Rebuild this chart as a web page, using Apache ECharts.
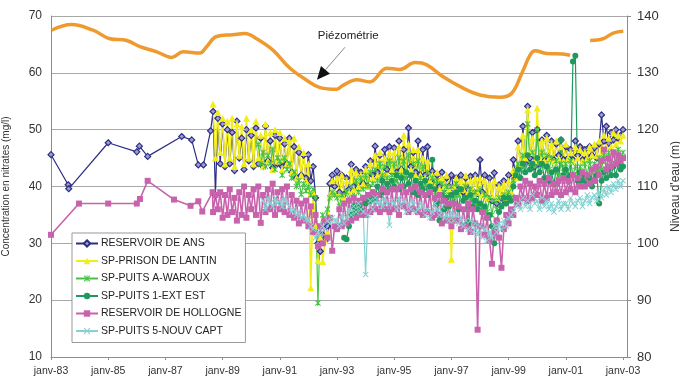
<!DOCTYPE html>
<html><head><meta charset="utf-8">
<script src="https://cdn.jsdelivr.net/npm/echarts@6/dist/echarts.min.js"></script>
<style>html,body{margin:0;padding:0;background:#fff}#c{width:680px;height:383px}</style>
</head><body><div id="c"></div>
<script>
// ---------- DATA ----------
var seriesNames = ['RESERVOIR DE ANS','SP-PRISON DE LANTIN','SP-PUITS A-WAROUX','SP-PUITS 1-EXT EST','RESERVOIR DE HOLLOGNE','SP-PUITS 5-NOUV CAPT'];
var xTickYears = [1983,1985,1987,1989,1991,1993,1995,1997,1999,2001,2003];

// piezometric level (m), right axis: decimal year / value
var piezoX = [1983.02,1983.72,1984.47,1985.06,1985.65,1986.11,1986.70,1987.22,1987.62,1988.21,1988.44,1988.79,1989.36,1989.78,1990.19,1990.76,1991.36,1991.94,1992.41,1992.99,1993.21,1993.69,1994.15,1994.74,1995.20,1995.73,1996.14,1996.71,1997.41,1998.00,1998.70,1999.11,1999.46,1999.75,1999.92,2000.33,2000.90,2001.15,2001.50,2001.85,2002.30,2002.66,2003.01];
var piezoY = [137.5,138.5,137.5,136.0,135.7,134.6,133.7,132.7,133.7,133.5,134.6,136.4,136.7,136.9,136.0,134.0,130.8,128.7,127.4,127.1,127.8,128.8,128.4,130.8,130.6,131.8,131.4,129.3,127.3,126.1,125.7,126.4,129.9,133.1,133.9,133.4,133.3,133.1,null,135.7,136.0,137.0,137.3];

// sparse early samples
var ansEarlyX = [1983.0,1983.6,1983.62,1985.0,1986.0,1986.09,1986.38,1987.57,1987.92,1988.15,1988.33,1988.58];
var ansEarlyY = [45.6,40.3,39.6,47.7,46.1,47.1,45.3,48.8,48.2,43.8,43.8,49.8];
var hollEarlyX = [1983.0,1983.98,1985.0,1986.0,1986.11,1986.38,1987.3,1987.88,1988.15,1988.29,1988.65];
var hollEarlyY = [31.5,37.0,37.0,37.0,37.8,41.0,37.7,36.6,37.4,35.6,39.0];

// monthly samples (start year, start month, values)
var ansStart = [1988, 9];
var ansVals = [53.2,38.5,52.0,44.0,
 51.0,43.5,50.0,44.0,49.5,42.8,51.5,45.0,48.5,43.0,50.0,44.5,
 49.0,43.5,50.3,44.0,48.5,43.5,50.6,44.5,48.0,43.3,49.0,44.0,
 48.5,43.5,47.5,44.0,48.5,42.5,47.0,41.5,46.0,42.0,45.5,41.5,
 45.6,41.0,43.5,38.0,30.0,28.6,31.5,30.4,33.0,40.5,42.0,40.0,
 42.7,39.0,42.0,38.6,41.5,39.5,43.9,40.0,43.0,39.8,42.5,40.5,
 43.5,40.0,44.5,42.0,47.1,42.5,45.5,42.1,46.5,43.0,47.0,42.5,
 46.8,42.5,48.0,43.0,46.5,42.0,50.3,43.5,46.0,42.5,48.0,42.0,
 46.5,42.0,47.0,41.0,42.7,39.8,42.0,40.0,42.5,39.5,41.5,40.0,
 42.0,39.2,41.5,39.5,42.0,39.0,41.5,39.5,41.8,39.2,42.0,38.8,
 44.7,39.0,42.0,38.0,41.5,37.5,42.4,37.0,40.3,38.0,41.0,37.2,
 42.0,38.5,44.7,41.5,48.0,43.5,50.6,44.0,54.1,45.0,49.5,43.5,
 50.0,44.0,48.2,44.5,49.0,45.0,48.0,44.7,47.5,45.5,48.2,44.7,
 47.0,45.0,46.5,44.7,48.0,45.5,47.0,44.7,46.5,45.0,47.0,45.5,
 46.8,45.0,47.5,52.6,48.0,50.6,47.6,49.5,48.2,50.0,48.5,49.0,
 50.0];
var lantinStart = [1988, 9];
var lantinVals = [54.5,45.0,53.0,46.0,
 52.0,44.0,51.5,45.0,52.0,43.5,51.0,45.5,50.5,44.0,52.0,45.0,
 50.0,44.0,51.5,45.0,49.0,43.5,51.0,44.5,49.5,43.0,50.0,44.5,
 49.5,43.0,48.5,44.0,48.0,42.5,48.5,41.5,47.0,42.0,46.0,41.0,
 44.0,22.2,39.0,33.0,27.0,31.0,26.8,30.5,32.0,38.5,41.0,39.0,
 41.5,38.5,42.0,38.0,41.0,39.0,43.0,39.5,42.5,40.0,42.0,40.5,
 43.0,40.0,44.0,41.5,45.5,42.0,46.0,42.5,45.0,42.0,46.0,43.0,
 46.0,42.0,47.0,43.0,49.0,42.5,47.5,43.0,46.5,42.0,46.5,42.0,
 45.0,41.5,44.5,41.0,42.0,40.0,42.5,39.5,41.5,40.0,42.0,39.5,
 27.2,40.0,41.5,39.0,41.0,39.5,42.0,39.0,41.0,39.5,41.5,39.0,
 41.5,38.5,41.0,38.0,40.5,38.5,41.0,38.0,40.0,38.5,40.5,38.0,
 41.0,39.0,43.0,41.5,47.0,44.0,49.0,45.0,53.5,46.0,48.5,44.5,
 53.8,45.0,48.0,44.5,48.5,45.0,47.5,44.5,48.0,45.0,47.0,44.5,
 47.5,45.0,46.0,44.5,47.0,45.0,46.5,44.5,46.0,45.0,47.0,45.5,
 47.5,45.5,48.0,46.0,49.0,47.0,48.5,47.0,49.5,47.5,49.0,48.0,
 49.0];
var warouxStart = [1990, 4];
var warouxVals = [47.4,44.0,46.0,43.5,45.5,44.0,46.5,43.0,45.0,
 44.5,42.0,45.0,43.0,44.0,41.5,42.5,40.0,41.0,38.6,40.5,39.2,
 40.0,38.5,39.5,38.0,19.5,33.0,35.0,34.0,36.0,38.0,39.0,38.5,
 38.0,36.5,38.5,37.0,39.0,37.5,40.0,38.0,41.0,39.0,41.5,39.5,
 42.0,40.0,42.5,40.5,43.0,41.0,44.0,42.0,43.5,41.5,44.5,42.0,
 44.0,41.0,45.0,42.0,44.5,41.5,45.5,42.0,44.0,41.0,44.5,41.5,
 43.5,40.5,42.5,40.0,41.5,39.0,41.0,38.5,40.5,39.0,40.0,38.5,
 40.0,38.0,40.5,38.5,39.5,37.5,40.0,38.0,39.5,37.5,39.0,37.0,
 39.5,36.5,38.5,35.5,38.0,35.0,37.5,36.0,38.0,36.5,38.5,37.0,
 39.0,38.0,41.0,42.5,44.0,43.0,45.5,43.5,51.0,44.0,46.0,43.5,
 50.0,44.0,46.0,43.5,45.5,43.0,45.0,42.5,44.5,42.0,44.0,42.5,
 44.0,42.0,44.5,42.0,43.5,41.5,43.5,41.5,44.0,42.0,44.5,42.5,
 44.0,42.5,45.0,43.0,45.5,43.0,46.0,43.5,46.0,44.0,46.5,44.5,
 46.0];
var extEstStart = [1993, 4];
var extEstVals = [31.0,30.7,33.0,35.0,36.5,35.5,37.0,36.0,38.0,
 37.0,38.5,37.5,39.0,38.0,40.0,38.5,41.0,39.0,40.5,39.5,41.0,
 40.0,42.0,39.5,41.5,40.0,42.5,40.5,42.0,39.0,41.0,38.5,40.5,
 39.5,41.0,38.5,40.0,44.7,39.5,37.0,34.0,38.5,36.0,38.0,36.5,
 38.5,37.0,39.0,36.0,39.5,37.5,38.0,33.5,38.5,36.5,37.5,36.0,
 37.0,35.5,36.5,34.5,35.0,33.0,30.0,34.0,35.5,36.5,38.0,37.0,
 38.0,37.5,40.0,42.0,43.0,41.5,44.0,42.5,45.5,43.0,44.0,42.0,
 45.0,42.5,44.0,41.5,43.5,41.0,42.5,40.5,43.0,41.0,48.2,42.0,
 43.0,41.5,42.0,62.0,63.0,41.0,42.5,41.0,42.0,40.5,41.5,40.0,
 41.0,42.0,37.0,41.0,42.5,41.5,43.0,42.0,43.5,42.0,44.0,43.0,
 43.5];
var hollStart = [1988, 9];
var hollVals = [35.5,38.5,36.0,39.0,
 34.5,38.5,35.0,39.5,35.5,38.0,34.0,39.0,35.0,40.0,34.5,38.5,
 36.0,39.5,35.0,40.0,33.6,38.5,35.5,39.5,36.0,40.5,35.0,39.0,
 36.0,39.5,35.5,40.0,35.0,38.5,34.5,37.5,33.5,37.0,34.0,37.5,
 33.0,36.5,32.0,35.0,29.5,33.0,30.0,34.0,31.0,34.5,28.7,33.0,
 32.5,36.0,33.0,37.0,33.5,37.5,34.0,38.0,34.5,37.5,35.0,38.0,
 35.0,38.5,35.5,39.0,36.0,38.5,35.5,39.5,36.0,39.0,35.5,39.5,
 36.0,39.5,35.0,40.0,36.5,39.0,35.5,39.5,36.0,40.0,35.5,39.0,
 35.0,38.5,35.5,39.0,34.5,38.0,35.0,38.5,33.5,37.5,34.0,37.0,
 33.0,37.0,34.0,36.5,32.5,36.0,33.0,37.0,32.0,36.0,33.5,14.8,
 33.0,35.5,31.5,34.5,30.5,26.4,32.0,34.0,31.0,25.7,32.5,35.0,
 33.5,36.0,35.0,38.0,37.0,40.0,38.0,41.0,37.5,40.5,38.0,40.0,
 38.5,41.0,37.5,40.5,38.0,41.5,38.5,40.5,39.0,41.0,38.5,41.5,
 39.0,41.0,39.5,42.0,39.0,41.5,40.0,42.5,40.0,42.0,40.5,43.0,
 41.0,43.5,42.0,44.5,46.5,43.0,45.0,43.5,46.0,44.0,45.5,44.5,
 45.0];
var nouvStart = [1990, 6];
var nouvVals = [37.5,36.0,38.0,37.1,36.5,38.0,37.0,
 37.5,36.5,38.0,37.0,36.5,35.5,36.0,35.0,35.5,34.5,35.0,34.2,
 34.2,33.0,32.5,31.0,32.0,31.5,33.0,32.5,34.0,33.5,34.5,34.0,
 34.0,33.0,35.0,33.5,34.5,36.0,35.0,36.5,35.5,37.0,36.0,35.5,
 24.5,35.0,37.5,36.0,38.0,37.0,37.5,36.5,38.0,37.0,33.2,37.5,
 37.0,36.0,38.0,36.5,37.5,35.5,37.0,36.0,37.5,35.5,36.0,37.0,
 36.5,35.0,36.0,34.5,35.5,37.0,36.0,35.0,36.5,34.5,35.0,34.0,
 35.5,34.0,35.0,33.5,34.5,33.0,34.0,32.5,34.0,32.0,33.5,31.5,
 33.0,31.0,32.5,30.5,32.0,31.0,33.0,32.0,33.5,32.5,34.0,33.0,
 34.5,35.0,35.5,36.5,37.0,36.0,38.0,36.5,37.5,36.0,38.5,37.0,
 37.5,36.0,38.0,36.5,37.5,36.0,37.0,35.5,36.5,37.5,36.0,37.0,
 37.0,36.0,38.0,37.0,36.5,37.5,38.0,36.5,37.5,38.5,37.0,38.0,
 38.5,37.5,39.0,38.0,39.5,38.5,40.0,39.0,40.5,39.5,41.0,40.0,
 41.0];

// ---------- BUILD ----------
function pairs(xs, ys){ return xs.map(function(x,i){ return [x, ys[i]]; }); }
function monthly(start, vals){ return vals.map(function(v,i){ return [start[0] + (start[1]-1+i)/12, v]; }); }

var FONT = "'Liberation Sans',Arial,sans-serif";
var xPath = 'path://M0,1.2L1.2,0L5,3.8L8.8,0L10,1.2L6.2,5L10,8.8L8.8,10L5,6.2L1.2,10L0,8.8L3.8,5Z';
var starPath = 'path://M0,1.2L1.2,0L5,3.8L8.8,0L10,1.2L6.2,5L10,8.8L8.8,10L5,6.2L1.2,10L0,8.8L3.8,5Z M4.3,0L5.7,0L5.7,10L4.3,10Z';

var chart = echarts.init(document.getElementById('c'), null, {renderer:'canvas'});

function mk(name, data, color, symbol, size, fill, lw){
  return {
    name: name, type: 'line', yAxisIndex: 0, data: data,
    symbol: symbol, symbolSize: size, showSymbol: true, animation: false,
    lineStyle: {color: color, width: lw || 1.2},
    itemStyle: {color: fill || color, borderColor: color, borderWidth: fill ? 1.2 : 0},
    emphasis: {disabled: true}
  };
}

var series = [
  mk(seriesNames[0], pairs(ansEarlyX, ansEarlyY).concat(monthly(ansStart, ansVals)), '#2d2d86', 'diamond', 6, '#9d9dd0'),
  mk(seriesNames[1], monthly(lantinStart, lantinVals), '#f2ee1c', 'triangle', 7, null, 1.6),
  mk(seriesNames[2], monthly(warouxStart, warouxVals), '#45c445', starPath, 6),
  mk(seriesNames[3], monthly(extEstStart, extEstVals), '#1f9a5c', 'circle', 6),
  mk(seriesNames[4], pairs(hollEarlyX, hollEarlyY).concat(monthly(hollStart, hollVals)), '#c862ad', 'rect', 6, null, 1.6),
  mk(seriesNames[5], monthly(nouvStart, nouvVals), '#86d2d2', xPath, 6),
  {
    name: 'Piézométrie', type: 'line', yAxisIndex: 1, data: pairs(piezoX, piezoY),
    smooth: 0.4, showSymbol: false, connectNulls: false, animation: false,
    lineStyle: {color: '#ef9a2e', width: 3.5}, itemStyle: {color: '#ef9a2e'}, z: 3
  }
];

var axisGray = '#8c8c8c';
chart.setOption({
  backgroundColor: '#fff',
  animation: false,
  textStyle: {fontFamily: FONT},
  grid: {left: 51, right: 53, top: 16, bottom: 26, containLabel: false, outerBoundsMode: 'none'},
  legend: {
    data: seriesNames, orient: 'vertical', left: 72, top: 233,
    backgroundColor: '#fff', borderColor: '#999', borderWidth: 1,
    padding: [5, 4, 6, 3], itemGap: 6.5, itemWidth: 22, itemHeight: 8,
    textStyle: {fontFamily: FONT, fontSize: 10.5, color: '#222', padding: [0, 0, 0, -2]}
  },
  xAxis: {
    type: 'value', min: 1983, max: 2003.14, interval: 2,
    axisLine: {lineStyle: {color: axisGray}},
    axisTick: {lineStyle: {color: axisGray}, length: 3},
    splitLine: {show: false},
    axisLabel: {
      fontFamily: FONT, fontSize: 10.5, color: '#333', margin: 9, showMaxLabel: false,
      formatter: function(v){ return xTickYears.indexOf(v) >= 0 ? 'janv-' + String(v).slice(2) : ''; }
    }
  },
  yAxis: [{
    type: 'value', min: 10, max: 70, interval: 10, position: 'left',
    name: 'Concentration en nitrates (mg/l)', nameLocation: 'middle', nameGap: 40, nameRotate: 90,
    nameTextStyle: {fontFamily: FONT, fontSize: 10, color: '#333'},
    axisLine: {show: true, lineStyle: {color: axisGray}},
    axisTick: {show: false},
    splitLine: {lineStyle: {color: '#a8a8a8', width: 1}},
    axisLabel: {fontFamily: FONT, fontSize: 12, color: '#333', margin: 9}
  }, {
    type: 'value', min: 80, max: 140, interval: 10, position: 'right',
    name: "Niveau d'eau (m)", nameLocation: 'middle', nameGap: 42, nameRotate: 90,
    nameTextStyle: {fontFamily: FONT, fontSize: 12, color: '#333'},
    axisLine: {show: true, lineStyle: {color: axisGray}},
    axisTick: {show: true, length: 4, inside: false, lineStyle: {color: axisGray}},
    splitLine: {show: false},
    axisLabel: {fontFamily: FONT, fontSize: 13, color: '#333', margin: 10}
  }],
  series: series
});

// Annotation "Piézométrie" anchored to data coordinates
var textPt = chart.convertToPixel({xAxisIndex: 0, yAxisIndex: 1}, [1993.45, 136.1]);
var startPt = chart.convertToPixel({xAxisIndex: 0, yAxisIndex: 1}, [1993.28, 134.5]);
var tipPt = chart.convertToPixel({xAxisIndex: 0, yAxisIndex: 1}, [1992.3, 128.8]);
var dx = tipPt[0] - startPt[0], dy = tipPt[1] - startPt[1];
var len = Math.sqrt(dx*dx + dy*dy), ux = dx/len, uy = dy/len;
var bx = tipPt[0] - 13*ux, by = tipPt[1] - 13*uy;
var px = -uy, py = ux;
chart.setOption({
  graphic: [
    {type: 'text', left: textPt[0] - 32, top: textPt[1] - 8, z: 100,
     style: {text: 'Piézométrie', fontFamily: FONT, fontSize: 11.5, fill: '#222'}},
    {type: 'line', z: 100, shape: {x1: startPt[0], y1: startPt[1], x2: bx, y2: by},
     style: {stroke: '#888', lineWidth: 1}},
    {type: 'polygon', z: 100, shape: {points: [[tipPt[0], tipPt[1]], [bx + 6*px, by + 6*py], [bx - 6*px, by - 6*py]]},
     style: {fill: '#111'}}
  ]
});
</script></body></html>
